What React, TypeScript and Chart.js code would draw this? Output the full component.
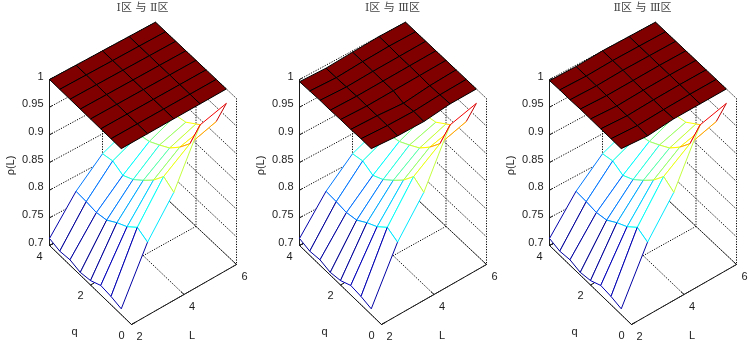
import React, { useEffect, useRef } from "react";
import { Chart, registerables } from "chart.js";

Chart.register(...registerables);

const lValues = [2, 3, 4, 5, 6];
const qValues = [0.5, 1, 1.5, 2, 2.5, 3, 3.5, 4];
const rhoTicks = [0.7, 0.75, 0.8, 0.85, 0.9, 0.95, 1];
const qTicks = [0, 2, 4];
const lTicks = [2, 4, 6];

// lower mesh, one list per L, q ascending
const lowerL2 = [0.7105, 0.715, 0.717, 0.708, 0.705, 0.7098, 0.7076, 0.7127];
const lowerL3 = [0.804, 0.813, 0.7965, 0.786, 0.773, 0.769, 0.771, 0.772];
const lowerL4 = [0.867, 0.878, 0.854, 0.836, 0.82, 0.81, 0.8185, 0.814];
const lowerL5 = [0.962, 0.9105, 0.887, 0.868, 0.856, 0.845, 0.84, 0.835];
const lowerL6 = [0.974, 0.924, 0.899, 0.885, 0.871, 0.866, 0.86, 0.855];
const lowerMesh = [lowerL2, lowerL3, lowerL4, lowerL5, lowerL6];

// upper surfaces, one list per L, q ascending
const upper1L2 = [1, 1, 1, 1, 1, 1, 1, 1];
const upper1L3 = [1, 1, 1, 1, 1, 1, 1, 1];
const upper1L4 = [1, 1, 1, 1, 1, 1, 1, 1];
const upper1L5 = [1, 1, 1, 1, 1, 1, 1, 1];
const upper1L6 = [1, 1, 1, 1, 1, 1, 1, 1];

const upper2L2 = [1, 1, 0.999, 0.999, 0.998, 0.998, 0.997, 0.996];
const upper2L3 = [0.996, 0.997, 0.997, 0.997, 0.997, 0.996, 0.995, 0.9946];
const upper2L4 = [0.995, 0.996, 0.993, 0.998, 0.998, 0.998, 0.998, 0.9976];
const upper2L5 = [1, 0.999, 0.998, 0.999, 0.999, 0.999, 1, 1];
const upper2L6 = [1, 1, 1, 1, 1, 1, 1, 1];

const upper3L2 = [1, 1, 1, 1, 1, 0.999, 0.999, 0.998];
const upper3L3 = [0.996, 0.997, 0.997, 0.997, 0.998, 0.998, 0.998, 0.9976];
const upper3L4 = [1, 0.999, 0.999, 0.999, 0.999, 1, 1, 1];
const upper3L5 = [1, 1, 1, 1, 1, 1, 1, 1];
const upper3L6 = [1, 1, 1, 1, 1, 1, 1, 1];

const panelTitles = ["Ⅰ区 与 Ⅱ区", "Ⅰ区 与 Ⅲ区", "Ⅱ区 与 Ⅲ区"];
const panelUppers = [
  [upper1L2, upper1L3, upper1L4, upper1L5, upper1L6],
  [upper2L2, upper2L3, upper2L4, upper2L5, upper2L6],
  [upper3L2, upper3L3, upper3L4, upper3L5, upper3L6],
];
const panelLefts = [0, 250, 500];

const LEFT_PAD = 35;
const CANVAS_W = 250;
const CANVAS_H = 343;
const TITLE_H = 14;

// view projection of (L, q, rho) on the picture plane, with a slight perspective term
const project = (L: number, q: number, z: number) => {
  const a = (L - 2) / 4;
  const b = (4 - q) / 4;
  const c = (z - 0.7) / 0.3;
  return {
    x: 49.5 + 105 * a + 82 * b + 1 * a * (1 - b),
    y: CANVAS_H - (245.5 - 60 * a + 79 * b - 166 * c + 2.7 * a * (1 - b)),
  };
};

const clamp01 = (v: number) => Math.max(0, Math.min(1, v));
const jet = (z: number) => {
  const t = clamp01((z - 0.7) / 0.295);
  const r = clamp01(Math.min(4 * t - 1.5, -4 * t + 4.5));
  const g = clamp01(Math.min(4 * t - 0.5, -4 * t + 3.5));
  const b = clamp01(Math.min(4 * t + 0.5, -4 * t + 2.5));
  return `rgb(${Math.round(r * 255)},${Math.round(g * 255)},${Math.round(b * 255)})`;
};

const lineSet = (
  data: { x: number; y: number }[],
  color: string,
  width: number,
  dash: number[] = []
) => ({
  type: "scatter",
  data,
  showLine: true,
  borderColor: color,
  borderWidth: width,
  borderDash: dash,
  pointRadius: 0,
  pointHoverRadius: 0,
  clip: false,
  tension: 0,
  fill: false,
});

const quads = (
  grid: number[][],
  faceColor: (z: number) => string,
  edgeColor: ((z: number) => string) | null
) => {
  const out: any[] = [];
  for (let i = lValues.length - 2; i >= 0; i--) {
    for (let j = qValues.length - 2; j >= 0; j--) {
      const A = project(lValues[i], qValues[j], grid[i][j]);
      const B = project(lValues[i + 1], qValues[j], grid[i + 1][j]);
      const C = project(lValues[i + 1], qValues[j + 1], grid[i + 1][j + 1]);
      const D = project(lValues[i], qValues[j + 1], grid[i][j + 1]);
      const ds: any = lineSet([A, B, C, D, A], "#000", 1);
      ds.polyFill = faceColor(grid[i][j]);
      if (edgeColor) {
        const cols = [
          edgeColor(grid[i][j]),
          edgeColor(grid[i + 1][j]),
          edgeColor(grid[i][j + 1]),
          edgeColor(grid[i][j]),
        ];
        ds.segment = { borderColor: (c: any) => cols[c.p0DataIndex] };
      }
      out.push(ds);
    }
  }
  return out;
};

const frameSets = () => {
  const out: any[] = [];
  const DOT = [1.2, 1.4];
  const zMin = rhoTicks[0];
  const zMax = rhoTicks[rhoTicks.length - 1];
  // horizontal grid on the two back walls
  rhoTicks.forEach((z) => {
    out.push(lineSet([project(2, 4, z), project(6, 4, z), project(6, 0, z)], "#000", 1, DOT));
  });
  // grid rising from the tick positions
  lTicks.forEach((L) => {
    out.push(lineSet([project(L, 0, zMin), project(L, 4, zMin), project(L, 4, zMax)], "#000", 1, DOT));
  });
  qTicks.forEach((q) => {
    out.push(lineSet([project(2, q, zMin), project(6, q, zMin), project(6, q, zMax)], "#000", 1, DOT));
  });
  // solid axes
  out.push(lineSet([project(2, 4, zMax), project(2, 4, zMin), project(2, 0, zMin), project(6, 0, zMin)], "#1a1a1a", 1));
  // tick marks
  rhoTicks.forEach((z) => {
    out.push(lineSet([project(2, 4, z), project(2.12, 4, z)], "#1a1a1a", 1));
  });
  qTicks.forEach((q) => {
    out.push(lineSet([project(2, q, zMin), project(2.15, q, zMin)], "#1a1a1a", 1));
  });
  lTicks.forEach((L) => {
    out.push(lineSet([project(L, 0, zMin), project(L, 0.15, zMin)], "#1a1a1a", 1));
  });
  return out;
};

const faceAndLabels = {
  id: "faceAndLabels",
  beforeDatasetDraw(chart: any, args: any) {
    const ds = chart.data.datasets[args.index];
    if (!ds.polyFill) return;
    const pts = args.meta.data;
    const ctx = chart.ctx;
    ctx.save();
    ctx.beginPath();
    pts.forEach((p: any, i: number) => (i ? ctx.lineTo(p.x, p.y) : ctx.moveTo(p.x, p.y)));
    ctx.closePath();
    ctx.fillStyle = ds.polyFill;
    ctx.fill();
    ctx.restore();
  },
  afterDatasetsDraw(chart: any) {
    const ctx = chart.ctx;
    const sx = chart.scales.x;
    const sy = chart.scales.y;
    const put = (t: string, p: { x: number; y: number }, dx: number, dy: number, align: CanvasTextAlign) => {
      ctx.textAlign = align;
      ctx.fillText(t, sx.getPixelForValue(p.x) + dx, sy.getPixelForValue(p.y) + dy);
    };
    ctx.save();
    ctx.fillStyle = "#1c1c1c";
    ctx.font = "11px 'Liberation Sans'";
    ctx.textBaseline = "middle";
    rhoTicks.forEach((z) => put(String(z), project(2, 4, z), -6, -3, "right"));
    qTicks.forEach((q) => put(String(q), project(2, q, 0.7), -10, 11, "center"));
    lTicks.forEach((L) => put(String(L), project(L, 0, 0.7), 8, 12, "center"));
    put("q", project(2, 2, 0.7), -16, 47, "center");
    put("L", project(4, 0, 0.7), 8, 41, "center");
    const a = project(2, 4, 0.85);
    ctx.translate(sx.getPixelForValue(a.x) - 39, sy.getPixelForValue(a.y) + 3);
    ctx.rotate(-Math.PI / 2);
    ctx.textAlign = "center";
    ctx.fillText("ρ(L)", 0, 0);
    ctx.restore();
  },
};

function Panel({ index }: { index: number }) {
  const ref = useRef<HTMLCanvasElement | null>(null);
  useEffect(() => {
    const paint = [
      ...frameSets(),
      ...quads(lowerMesh, () => "#ffffff", jet),
      ...quads(panelUppers[index], jet, null),
    ];
    paint.forEach((d, i) => (d.order = paint.length - i));
    const chart = new Chart(ref.current as HTMLCanvasElement, {
      type: "scatter",
      data: { datasets: paint },
      plugins: [faceAndLabels],
      options: {
        responsive: false,
        devicePixelRatio: 1,
        animation: false,
        events: [],
        layout: { padding: { left: LEFT_PAD, top: 0, right: 0, bottom: 0 } },
        scales: {
          x: { type: "linear", display: false, min: LEFT_PAD, max: CANVAS_W },
          y: { type: "linear", display: false, min: 0, max: CANVAS_H - TITLE_H },
        },
        plugins: {
          legend: { display: false },
          tooltip: { enabled: false },
          title: {
            display: true,
            fullSize: false,
            text: panelTitles[index],
            color: "#444",
            font: { family: "'DejaVu Serif', 'Noto Sans CJK SC'", size: 11, weight: "normal", lineHeight: 1 },
            padding: { top: 3, bottom: 0 },
          },
        },
      },
    } as any);
    return () => chart.destroy();
  }, [index]);
  return (
    <canvas
      ref={ref}
      width={CANVAS_W}
      height={CANVAS_H}
      style={{ position: "absolute", left: panelLefts[index], top: 0, width: CANVAS_W, height: CANVAS_H }}
    />
  );
}

export default function App() {
  return (
    <div style={{ position: "fixed", left: 0, top: 0, width: 748, height: 343, overflow: "hidden", background: "#fff" }}>
      {panelTitles.map((_, i) => (
        <Panel key={i} index={i} />
      ))}
    </div>
  );
}
